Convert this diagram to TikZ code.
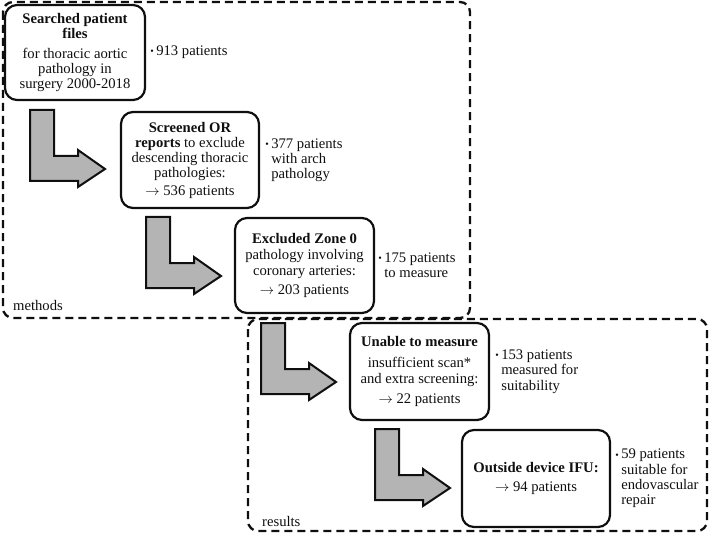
\documentclass[tikz,border=0pt]{standalone}
\usepackage{fontspec}
\setmainfont{Liberation Serif}
\newcommand\mainsize{\fontsize{14.7}{15.3}\selectfont}
\newcommand\bul{\llap{\raisebox{0.8bp}{\fontsize{10}{10}\selectfont\textbullet}\hspace{2.5bp}}}
\definecolor{arrowgray}{RGB}{180,180,180}
\definecolor{inkc}{RGB}{15,15,15}
\tikzset{
  box/.style={draw=inkc, text=inkc, line width=2.2bp, rounded corners=12bp, align=center,
    inner sep=1bp, font=\mainsize},
  note/.style={anchor=west, align=left, inner sep=0pt, text=inkc, font=\mainsize},
  regionlabel/.style={anchor=west, inner sep=0pt, text=inkc, font=\mainsize},
  region/.style={draw=inkc, line width=2.3bp, dash pattern=on 8bp off 5bp, rounded corners=10bp},
  bentarrow/.pic={
    \draw[fill=arrowgray, draw=inkc, line width=2bp, line join=miter]
      (0,0) -- (24,0) -- (24,46) -- (48,46) -- (48,40) -- (75,59)
      -- (48,77) -- (48,71) -- (0,71) -- cycle;
  }
}
\begin{document}
\begin{tikzpicture}[x=1bp, y=-1bp]
\useasboundingbox (0,0) rectangle (709,533);

% dashed regions
\draw[region] (3,2) rectangle (470,318);
\draw[region] (248,319) rectangle (707,531);
\node[regionlabel] (lm) at (13,305) {methods};
\node[regionlabel] (lr) at (262,521) {results};

% boxes
\node[box, minimum width=140bp, minimum height=95bp] (b1) at (75,52.5)
  {\textbf{Searched patient}\\\textbf{files}\\[5bp]for thoracic aortic\\pathology in\\surgery 2000-2018};
\node[box, minimum width=138bp, minimum height=96bp] (b2) at (190,160)
  {\textbf{Screened OR}\\\textbf{reports} to exclude\\descending thoracic\\pathologies:\\[2bp]$\rightarrow$ 536 patients};
\node[box, minimum width=139bp, minimum height=95bp] (b3) at (304.5,265.5)
  {\textbf{Excluded Zone 0}\\[1bp]pathology involving\\coronary arteries:\\[4bp]$\rightarrow$ 203 patients};
\node[box, minimum width=139bp, minimum height=97bp] (b4) at (419.5,371.5)
  {\textbf{Unable to measure}\\[6bp]insufficient scan*\\and extra screening:\\[5bp]$\rightarrow$ 22 patients};
\node[box, minimum width=148bp, minimum height=97bp] (b5) at (536,478.5)
  {\textbf{Outside device IFU:}\\[4bp]$\rightarrow$ 94 patients};

% notes
\node[note] (n1) at ([xshift=10bp]b1.east) {\bul 913 patients};
\node[note] (n2) at ([xshift=11bp]b2.east) {\bul 377 patients\\with arch\\pathology};
\node[note] (n3) at ([xshift=9bp]b3.east) {\bul 175 patients\\to measure};
\node[note] (n4) at ([xshift=11bp]b4.east) {\bul 153 patients\\measured for\\suitability};
\node[note] (n5) at ([xshift=10bp]b5.east) {\bul 59 patients\\suitable for\\endovascular\\repair};

% bent arrows
\pic at (30,110) {bentarrow};
\pic at (146,217) {bentarrow};
\pic at (261,323) {bentarrow};
\pic at (375,429) {bentarrow};
\end{tikzpicture}
\end{document}
